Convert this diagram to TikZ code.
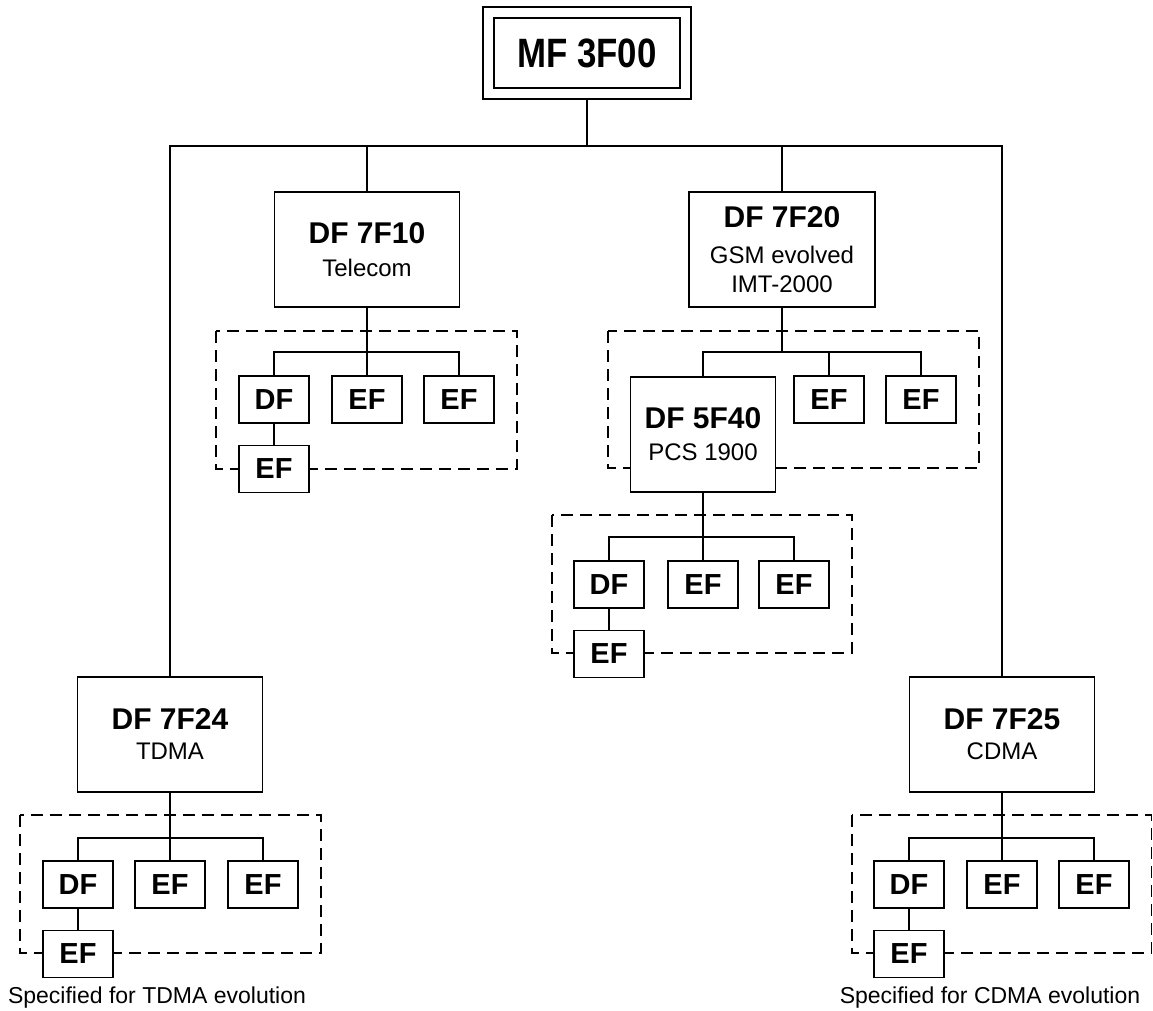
\documentclass[tikz,border=0pt]{standalone}
\usepackage{fontspec}
\usepackage{graphicx}
\setmainfont{Liberation Sans}
\begin{document}
\begin{tikzpicture}[x=1pt,y=-1pt, line width=1.7pt,
  box/.style={draw, fill=white, inner sep=0pt, align=center, font=\fontsize{24}{28.5}\selectfont},
  big/.style={box, minimum width=185pt, minimum height=115pt},
  small/.style={box, minimum width=70pt, minimum height=47pt, font=\bfseries\fontsize{29}{32}\selectfont},
  grp/.style={draw, dash pattern=on 12pt off 7pt, line width=1.4pt},
  note/.style={font=\fontsize{23}{27}\selectfont, anchor=base, inner sep=0pt}]
\useasboundingbox (0,0) rectangle (1153,1011);

% dashed groups
\draw[grp] (216,331) rectangle (517,469);
\draw[grp] (608,331) rectangle (979,468);
\draw[grp] (552,515) rectangle (852,653);
\draw[grp] (20,815) rectangle (321,953);
\draw[grp] (852,815) rectangle (1151.5,953);

% root
\node[draw, minimum width=208pt, minimum height=92pt, inner sep=0pt] (mfo) at (587,53) {};
\node[draw, fill=white, minimum width=186pt, minimum height=70pt, inner sep=0pt] (mf) at (587,53) {\scalebox{0.85}[1]{\bfseries\fontsize{41}{45}\selectfont MF 3F00}};

% big boxes
\node[big] (b7f10) at (367,249.5) {\textbf{\fontsize{30}{36}\selectfont DF 7F10}\\[5pt]Telecom};
\node[big, minimum width=186pt] (b7f20) at (782,249.5) {\textbf{\fontsize{30}{36}\selectfont DF 7F20}\\[8pt]GSM evolved\\IMT-2000};
\node[big, minimum width=145pt] (b5f40) at (703,434.5) {\textbf{\fontsize{30}{36}\selectfont DF 5F40}\\[3.5pt]PCS 1900};
\node[big] (b7f24) at (170,734.5) {\textbf{\fontsize{30}{36}\selectfont DF 7F24}\\[1.5pt]TDMA};
\node[big] (b7f25) at (1002,734.5) {\textbf{\fontsize{30}{36}\selectfont DF 7F25}\\[1.5pt]CDMA};

% group A
\node[small] (dfA) at (274,399.5) {DF};
\node[small] (efA1) at (367,399.5) {EF};
\node[small] (efA2) at (459,399.5) {EF};
\node[small] (efA3) at (274,469) {EF};
% group B
\node[small] (efB1) at (829,399.5) {EF};
\node[small] (efB2) at (921,399.5) {EF};
% group C
\node[small] (dfC) at (609,584.5) {DF};
\node[small] (efC1) at (703,584.5) {EF};
\node[small] (efC2) at (794,584.5) {EF};
\node[small] (efC3) at (609,654) {EF};
% group D
\node[small] (dfD) at (78,884.5) {DF};
\node[small] (efD1) at (170,884.5) {EF};
\node[small] (efD2) at (263,884.5) {EF};
\node[small] (efD3) at (78,954) {EF};
% group E
\node[small] (dfE) at (909,884.5) {DF};
\node[small] (efE1) at (1002,884.5) {EF};
\node[small] (efE2) at (1094,884.5) {EF};
\node[small] (efE3) at (909,954) {EF};

% notes
\node[note] (noteT) at (157,1003) {Specified for TDMA evolution};
\node[note] (noteC) at (990,1003) {Specified for CDMA evolution};

% main bus
\draw (mfo.south) -- ++(0,46) coordinate (bus);
\draw (b7f24.north) |- (bus) -| (b7f25.north);
\draw (b7f10.north) -- (b7f10.north |- bus);
\draw (b7f20.north) -- (b7f20.north |- bus);

% group A
\draw (b7f10.south) -- (efA1.north);
\draw (dfA.north) -- ++(0,-23) -| (efA2.north);
\draw (dfA.south) -- (efA3.north);

% group B
\draw (b5f40.north) -- ++(0,-24) coordinate (busB) -| (efB2.north);
\draw (b7f20.south) -- (b7f20.south |- busB);
\draw (efB1.north) -- (efB1.north |- busB);

% group C
\draw (b5f40.south) -- (efC1.north);
\draw (dfC.north) -- ++(0,-23.5) -| (efC2.north);
\draw (dfC.south) -- (efC3.north);

% group D
\draw (b7f24.south) -- (efD1.north);
\draw (dfD.north) -- ++(0,-22) -| (efD2.north);
\draw (dfD.south) -- (efD3.north);

% group E
\draw (b7f25.south) -- (efE1.north);
\draw (dfE.north) -- ++(0,-22) -| (efE2.north);
\draw (dfE.south) -- (efE3.north);
\end{tikzpicture}
\end{document}
